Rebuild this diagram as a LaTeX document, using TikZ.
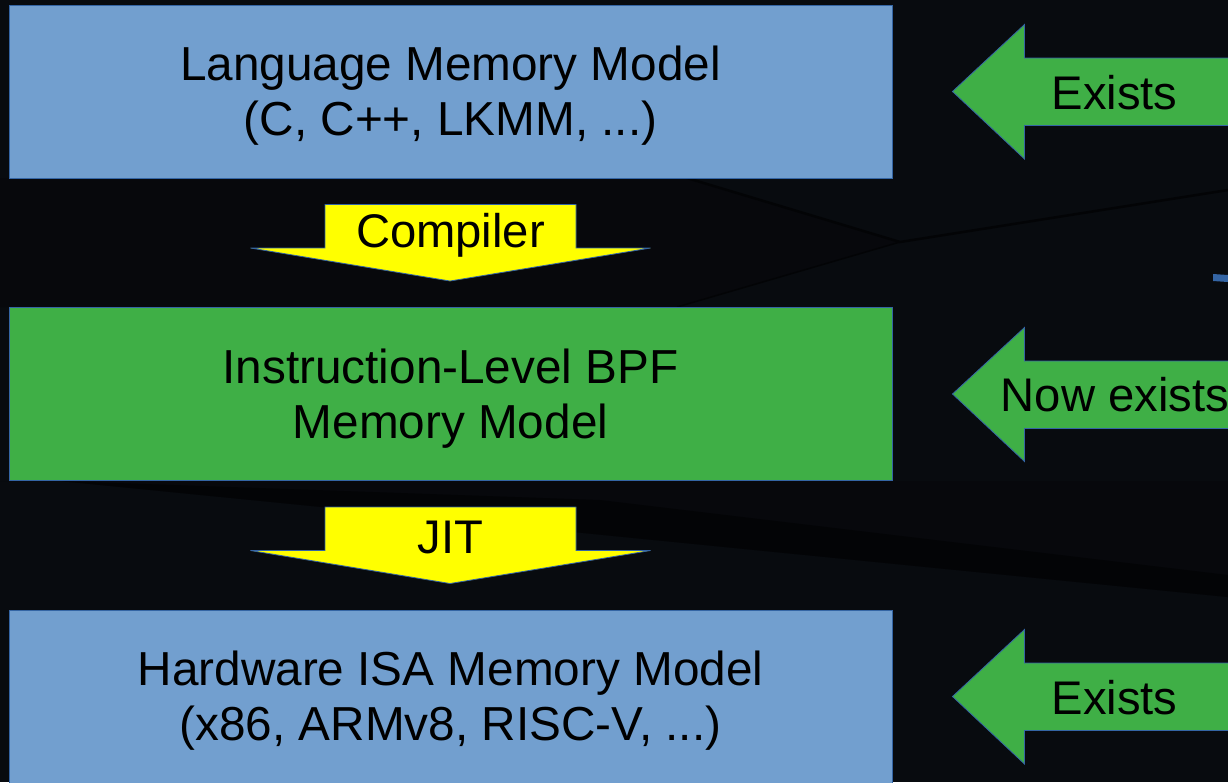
\documentclass[tikz,border=0pt]{standalone}
\usepackage{fontspec}
\setmainfont{Liberation Sans}
\definecolor{bg}{HTML}{080B0F}
\definecolor{bgleft}{HTML}{07080C}
\definecolor{bgd}{HTML}{030406}
\definecolor{boxblue}{HTML}{729FCF}
\definecolor{edgeblue}{HTML}{3465A4}
\definecolor{arrgreen}{HTML}{3FAF46}
\definecolor{arryellow}{HTML}{FFFF00}
\tikzset{
  layer/.style={draw=edgeblue, line width=0.9pt, minimum width=883pt, minimum height=173pt,
    inner sep=0pt},
  bluebox/.style={layer, fill=boxblue},
  greenbox/.style={layer, fill=arrgreen},
  boxtext/.style={inner sep=0pt, align=center, font=\fontsize{47.7}{55}\selectfont, text=black},
  garrow/.style={draw=edgeblue, line width=0.8pt, fill=arrgreen, line join=miter},
  yarrow/.style={draw=edgeblue, line width=0.8pt, fill=arryellow, line join=miter},
  lbl/.style={inner sep=0pt, font=\fontsize{47.2}{55}\selectfont, text=black, anchor=center}
}
\begin{document}
\begin{tikzpicture}[x=1pt,y=-1pt]
\useasboundingbox (0,0) rectangle (1228,782);
% background
\fill[bg] (0,0) rectangle (1228,782);
\fill[bgleft] (0,178) -- (687,178) -- (900,242) -- (677,307) -- (0,307) -- cycle;
\fill[bgleft] (0,481) -- (1228,481) -- (1228,597) -- (60,481) -- cycle;
\draw[bgd, line width=2.5pt] (687,178) -- (900,242) -- (1228,190);
\draw[bgd, line width=1.5pt] (900,242) -- (677,307);
\fill[bgd] (60,481) -- (1228,597) -- (1228,575) -- (600,500) -- cycle;
% small blue fragment at right edge
\fill[edgeblue] (1213,274) -- (1228,275) -- (1228,282) -- (1213,281) -- cycle;

% layer boxes
\node[bluebox] (lang) at (450.5,91.5) {};
\node[boxtext] (langtext) at (450.5,96) {Language Memory Model\\(C, C++, LKMM, ...)};
\node[greenbox] (bpf) at (450.5,394) {};
\node[boxtext] (bpftext) at (450.5,398.5) {Instruction-Level BPF\\Memory Model};
\node[bluebox] (hw) at (450.5,697) {};
\node[boxtext] (hwtext) at (450.5,701) {Hardware ISA Memory Model\\(x86, ARMv8, RISC-V, ...)};

% yellow down arrows
\draw[yarrow] (325,204.5) -- (576,204.5) -- (576,248) -- (650.5,248) -- (450,281) -- (250.5,248) -- (325,248) -- cycle;
\node[lbl] (compiler) at (450.5,235.5) {Compiler};
\draw[yarrow] (325,507) -- (576,507) -- (576,550.5) -- (650.5,550.5) -- (450,583.5) -- (250.5,550.5) -- (325,550.5) -- cycle;
\node[lbl] (jit) at (450.5,537) {JIT};

% green left arrows
\draw[garrow] (1240,58) -- (1024.5,58) -- (1024.5,24.5) -- (952.5,91.5) -- (1024.5,159) -- (1024.5,125.5) -- (1240,125.5);
\node[lbl] (ex1) at (1114.5,93) {Exists};
\draw[garrow] (1240,361) -- (1024.5,361) -- (1024.5,327.5) -- (952.5,394) -- (1024.5,461.5) -- (1024.5,428.5) -- (1240,428.5);
\node[lbl] (ex2) at (1115,395) {Now exists};
\draw[garrow] (1240,663) -- (1024.5,663) -- (1024.5,629.5) -- (952.5,696.5) -- (1024.5,764) -- (1024.5,730.5) -- (1240,730.5);
\node[lbl] (ex3) at (1114.5,698) {Exists};
\end{tikzpicture}
\end{document}
